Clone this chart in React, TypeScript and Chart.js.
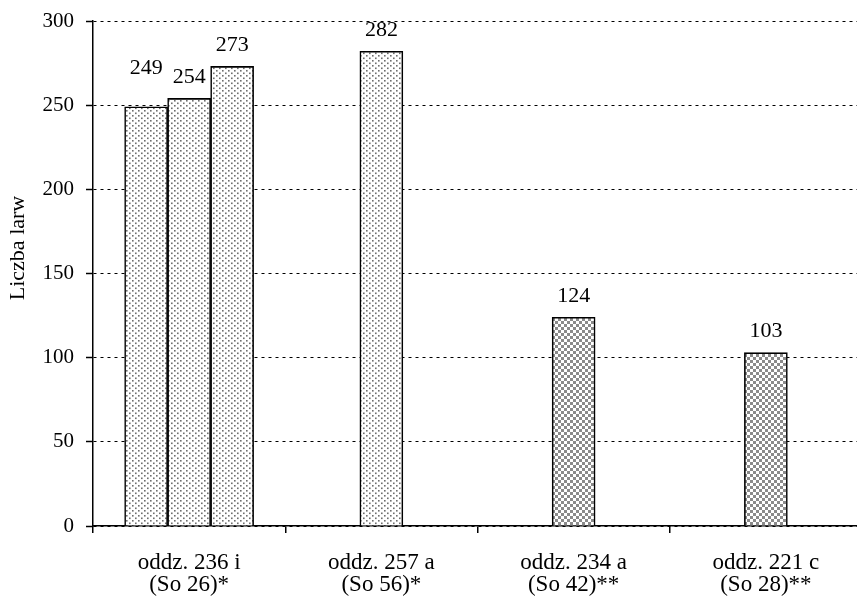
import React, { useEffect, useRef } from "react";
import { Chart, registerables } from "chart.js";

Chart.register(...registerables);

// Larvae counts per forest compartment
const categories: string[][] = [
  ["oddz. 236 i", "(So 26)*"],
  ["oddz. 257 a", "(So 56)*"],
  ["oddz. 234 a", "(So 42)**"],
  ["oddz. 221 c", "(So 28)**"],
];
const seriesA: (number | null)[] = [249, 282, 124, 103];
const seriesB: (number | null)[] = [254, null, null, null];
const seriesC: (number | null)[] = [273, null, null, null];
const yTicks = [0, 50, 100, 150, 200, 250, 300];
const yTitle = "Liczba larw";

const FONT = "'Liberation Serif', 'Times New Roman', serif";

function makePattern(
  w: number,
  h: number,
  dot: number,
  color: string
): CanvasPattern | string {
  const c = document.createElement("canvas");
  c.width = w;
  c.height = h;
  const g = c.getContext("2d");
  if (!g) return "#ddd";
  g.fillStyle = "#fff";
  g.fillRect(0, 0, w, h);
  g.fillStyle = color;
  g.fillRect(0, 0, dot, dot);
  g.fillRect(w / 2, h / 2, dot, dot);
  const p = g.createPattern(c, "repeat");
  return p || "#ddd";
}

// value labels above the bars; the first one is lifted to clear its neighbour
const LABEL_GAP = 21;
const labelLift: Record<string, number> = { "0-0": 18 };

const valueLabels = {
  id: "valueLabels",
  afterDatasetsDraw(chart: any) {
    const ctx = chart.ctx;
    ctx.save();
    ctx.font = `22px ${FONT}`;
    ctx.fillStyle = "#000";
    ctx.textAlign = "center";
    ctx.textBaseline = "middle";
    chart.data.datasets.forEach((ds: any, di: number) => {
      const meta = chart.getDatasetMeta(di);
      meta.data.forEach((el: any, i: number) => {
        const v = ds.data[i];
        if (v === null || v === undefined) return;
        const lift = labelLift[`${di}-${i}`] || 0;
        ctx.fillText(String(v), el.x, el.y - LABEL_GAP - lift);
      });
    });
    ctx.restore();
  },
};

const axisTitle = {
  id: "axisTitle",
  afterDraw(chart: any) {
    const ctx = chart.ctx;
    ctx.save();
    ctx.translate(18, 248);
    ctx.rotate(-Math.PI / 2);
    ctx.font = `22px ${FONT}`;
    ctx.fillStyle = "#000";
    ctx.textAlign = "center";
    ctx.textBaseline = "middle";
    ctx.fillText(yTitle, 0, 0);
    ctx.restore();
  },
};

export default function App() {
  const ref = useRef<HTMLCanvasElement | null>(null);

  useEffect(() => {
    if (!ref.current) return;
    const light = makePattern(6, 5, 1.6, "#6e6e6e");
    const dense = makePattern(6, 6, 3, "#8a8a8a");
    const chart = new Chart(ref.current, {
      type: "bar",
      data: {
        labels: categories,
        datasets: [
          {
            data: seriesA,
            backgroundColor: [light, light, dense, dense],
          },
          { data: seriesB, backgroundColor: light },
          { data: seriesC, backgroundColor: light },
        ] as any,
      },
      options: {
        responsive: false,
        animation: false,
        layout: { padding: { top: 21, left: 0, right: 0, bottom: 0 } },
        datasets: {
          bar: {
            barThickness: 43,
            skipNull: true,
            borderColor: "#000",
            borderWidth: 1.6,
            borderSkipped: "bottom",
          },
        } as any,
        plugins: {
          legend: { display: false },
          tooltip: { enabled: false },
        },
        scales: {
          x: {
            offset: true,
            grid: {
              display: true,
              offset: true,
              drawOnChartArea: false,
              drawTicks: true,
              tickLength: 7,
              color: "#000",
              lineWidth: 1.5,
            },
            border: { display: true, color: "#000", width: 1.5 },
            ticks: {
              color: "#000",
              font: { family: FONT, size: 23, lineHeight: 0.96 },
              padding: 19,
              maxRotation: 0,
              autoSkip: false,
            },
            afterFit: (s: any) => {
              s.height = 74;
              s.paddingLeft = 0;
              s.paddingRight = 0;
            },
          },
          y: {
            min: 0,
            max: 300,
            afterBuildTicks: (s: any) => {
              s.ticks = yTicks.map((v) => ({ value: v }));
            },
            grid: {
              color: "#000",
              lineWidth: 1,
              tickLength: 7,
              tickColor: "#000",
              tickWidth: 1.5,
              tickBorderDash: [],
            } as any,
            border: { display: true, color: "#000", width: 1.5, dash: [3, 4] },
            ticks: {
              color: "#000",
              font: { family: FONT, size: 21 },
              padding: 12,
            },
            afterFit: (s: any) => {
              s.width = 93;
              s.paddingTop = 0;
              s.paddingBottom = 0;
            },
          },
        },
      },
      plugins: [valueLabels, axisTitle],
    });
    return () => chart.destroy();
  }, []);

  return (
    <div
      style={{
        position: "fixed",
        left: 0,
        top: 0,
        width: 857,
        height: 600,
        overflow: "hidden",
        background: "#fff",
      }}
    >
      <canvas ref={ref} width={862} height={600} style={{ display: "block" }} />
    </div>
  );
}
